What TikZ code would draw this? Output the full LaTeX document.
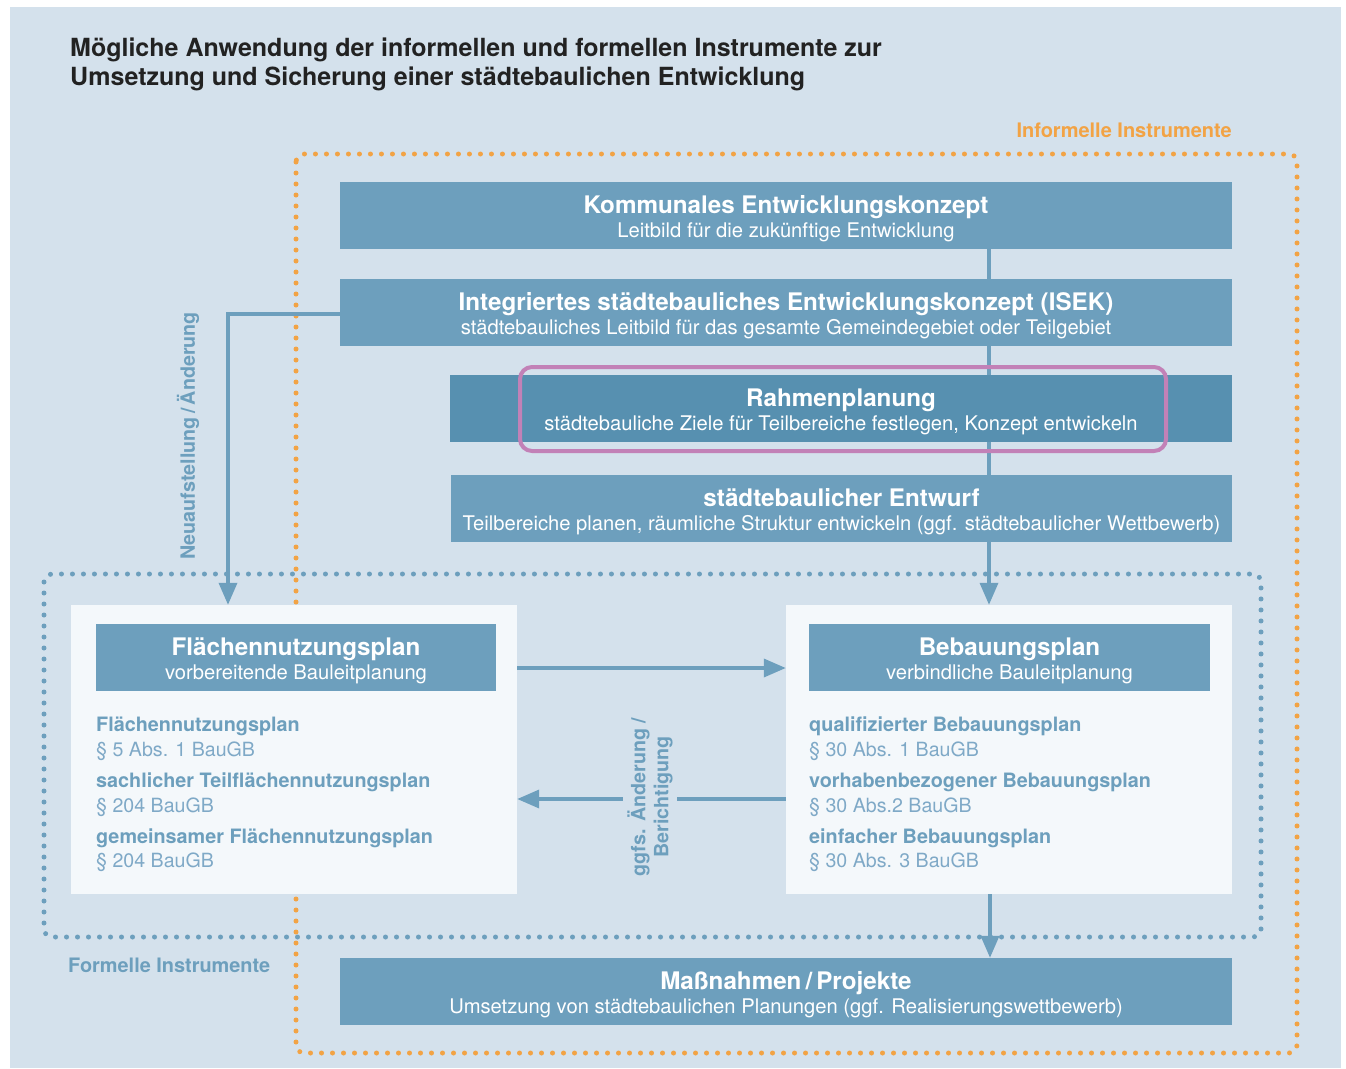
\documentclass[tikz,border=0pt]{standalone}
\usepackage{fontspec}
\setmainfont{TeX Gyre Heros}
\usetikzlibrary{arrows.meta}
\definecolor{bgc}{HTML}{D4E1EC}
\definecolor{boxc}{HTML}{6D9FBD}
\definecolor{boxd}{HTML}{5790B0}
\definecolor{magc}{HTML}{C281B7}
\definecolor{orc}{HTML}{F2A345}
\definecolor{whc}{HTML}{F4F8FB}
\definecolor{litc}{HTML}{7FA9C7}
\definecolor{titc}{HTML}{222222}
\pgfdeclarelayer{back}
\pgfdeclarelayer{lines}
\pgfsetlayers{back,lines,main}
\newcommand\bxt[1]{{\fontsize{24.2}{25}\selectfont\bfseries\rule{0pt}{24.5pt}#1}}
\tikzset{
  bx/.style={fill=boxc, draw=none, inner sep=0pt, text=white, align=center,
    font=\fontsize{20.2}{25}\selectfont},
  wbox/.style={fill=whc, draw=none, inner sep=0pt},
  itb/.style={anchor=base west, inner sep=0pt, text=boxc, font=\fontsize{19.8}{22}\selectfont\bfseries},
  itl/.style={anchor=base west, inner sep=0pt, text=litc, font=\fontsize{19.6}{22}\selectfont},
  conn/.style={draw=boxc, line width=3.5pt},
  arr/.style={conn, -{Triangle[length=22pt,width=18pt]}},
  odots/.style={draw=orc, line width=5pt, line cap=round, dash pattern=on 0pt off 11pt, rounded corners=8pt},
  bdots/.style={draw=boxc, line width=5pt, line cap=round, dash pattern=on 0pt off 11pt, rounded corners=8pt},
  lbl/.style={inner sep=0pt, font=\fontsize{19.7}{23}\selectfont\bfseries}
}
\begin{document}
\begin{tikzpicture}[x=1pt,y=-1pt]
\useasboundingbox (0,0) rectangle (1346,1068);
\begin{pgfonlayer}{back}
  \fill[bgc] (10,7) rectangle (1341,1068);
\end{pgfonlayer}

% title
\node[anchor=base west, inner sep=0pt, text=titc, font=\fontsize{25}{29}\selectfont\bfseries] (t1) at (70,56) {Mögliche Anwendung der informellen und formellen Instrumente zur};
\node[anchor=base west, inner sep=0pt, text=titc, font=\fontsize{25}{29}\selectfont\bfseries] (t2) at (70,85) {Umsetzung und Sicherung einer städtebaulichen Entwicklung};

% group labels
\node[anchor=base east, inner sep=0pt, text=orc, font=\fontsize{20}{22}\selectfont\bfseries] (inf) at (1232,137) {Informelle Instrumente};
\node[anchor=base west, inner sep=0pt, text=boxc, font=\fontsize{19.9}{22}\selectfont\bfseries] (form) at (68,972) {Formelle Instrumente};

% informal boxes
\node[bx, minimum width=892pt, minimum height=67pt] (kek) at (786,215.5)
  {\bxt{Kommunales Entwicklungskonzept}\\[-1pt]Leitbild für die zukünftige Entwicklung};
\node[bx, minimum width=892pt, minimum height=67pt] (isek) at (786,312.5)
  {\bxt{Integriertes städtebauliches Entwicklungskonzept (ISEK)}\\[-1pt]städtebauliches Leitbild für das gesamte Gemeindegebiet oder Teilgebiet};
\node[bx, fill=boxd, minimum width=782pt, minimum height=67pt] (rahmen) at (841,408.5)
  {\bxt{Rahmenplanung}\\[-1pt]städtebauliche Ziele für Teilbereiche festlegen, Konzept entwickeln};
\draw[magc, line width=4pt, rounded corners=12pt] (520,367) rectangle (1166,451);
\node[bx, minimum width=781pt, minimum height=67pt] (entw) at (841.5,508.5)
  {\bxt{städtebaulicher Entwurf}\\[-1pt]Teilbereiche planen, räumliche Struktur entwickeln (ggf. städtebaulicher Wettbewerb)};

% formal white boxes
\node[wbox, minimum width=446pt, minimum height=289pt] (fnpw) at (294,749.5) {};
\node[wbox, minimum width=446pt, minimum height=289pt] (bpw) at (1009,749.5) {};
\node[bx, minimum width=400pt, minimum height=67pt] (fnph) at (296,657.5)
  {\bxt{Flächennutzungsplan}\\[-1pt]vorbereitende Bauleitplanung};
\node[bx, minimum width=401pt, minimum height=67pt] (bph) at (1009.5,657.5)
  {\bxt{Bebauungsplan}\\[-1pt]verbindliche Bauleitplanung};

\node[itb] (f1) at (96,731) {Flächennutzungsplan};
\node[itl] (f1a) at (96,756) {§ 5 Abs. 1 BauGB};
\node[itb] (f2) at (96,787) {sachlicher Teilflächennutzungsplan};
\node[itl] (f2a) at (96,812) {§ 204 BauGB};
\node[itb] (f3) at (96,843) {gemeinsamer Flächennutzungsplan};
\node[itl] (f3a) at (96,867) {§ 204 BauGB};

\node[itb] (b1) at (809,731) {qualifizierter Bebauungsplan};
\node[itl] (b1a) at (809,756) {§ 30 Abs. 1 BauGB};
\node[itb] (b2) at (809,787) {vorhabenbezogener Bebauungsplan};
\node[itl] (b2a) at (809,812) {§ 30 Abs.2 BauGB};
\node[itb] (b3) at (809,843) {einfacher Bebauungsplan};
\node[itl] (b3a) at (809,867) {§ 30 Abs. 3 BauGB};

% Massnahmen
\node[bx, minimum width=892pt, minimum height=67pt] (mass) at (786,991.5)
  {\bxt{Maßnahmen\,/\,Projekte}\\[-1pt]Umsetzung von städtebaulichen Planungen (ggf. Realisierungswettbewerb)};

% lines layer
\begin{pgfonlayer}{lines}
  \draw[odots] (296,154) rectangle (1297,1053);
  \draw[bdots] (44,574) rectangle (1261,937);
  \draw[arr] ([xshift=203pt]kek.south) -- ([xshift=-20pt]bpw.north);
  \draw[arr] ([yshift=-1.5pt]isek.west) -| ([xshift=-66pt]fnpw.north);
  \draw[arr] ([yshift=81.5pt]fnpw.east) -- ([yshift=81.5pt]bpw.west);
  \draw[arr] ([yshift=-49.5pt]bpw.west) -- ([yshift=-49.5pt]fnpw.east);
  \draw[arr] ([xshift=-19pt]bpw.south) -- ([xshift=204pt]mass.north);
  \node[lbl, rotate=90, text=boxc] (neu) at (188,436) {Neuaufstellung\,/\,Änderung};
  \node[lbl, rotate=90, text=boxc, fill=bgc, align=center, inner xsep=10pt, inner ysep=4pt] (ggfs) at (650,797) {ggfs. Änderung /\\Berichtigung};
\end{pgfonlayer}
\end{tikzpicture}
\end{document}
